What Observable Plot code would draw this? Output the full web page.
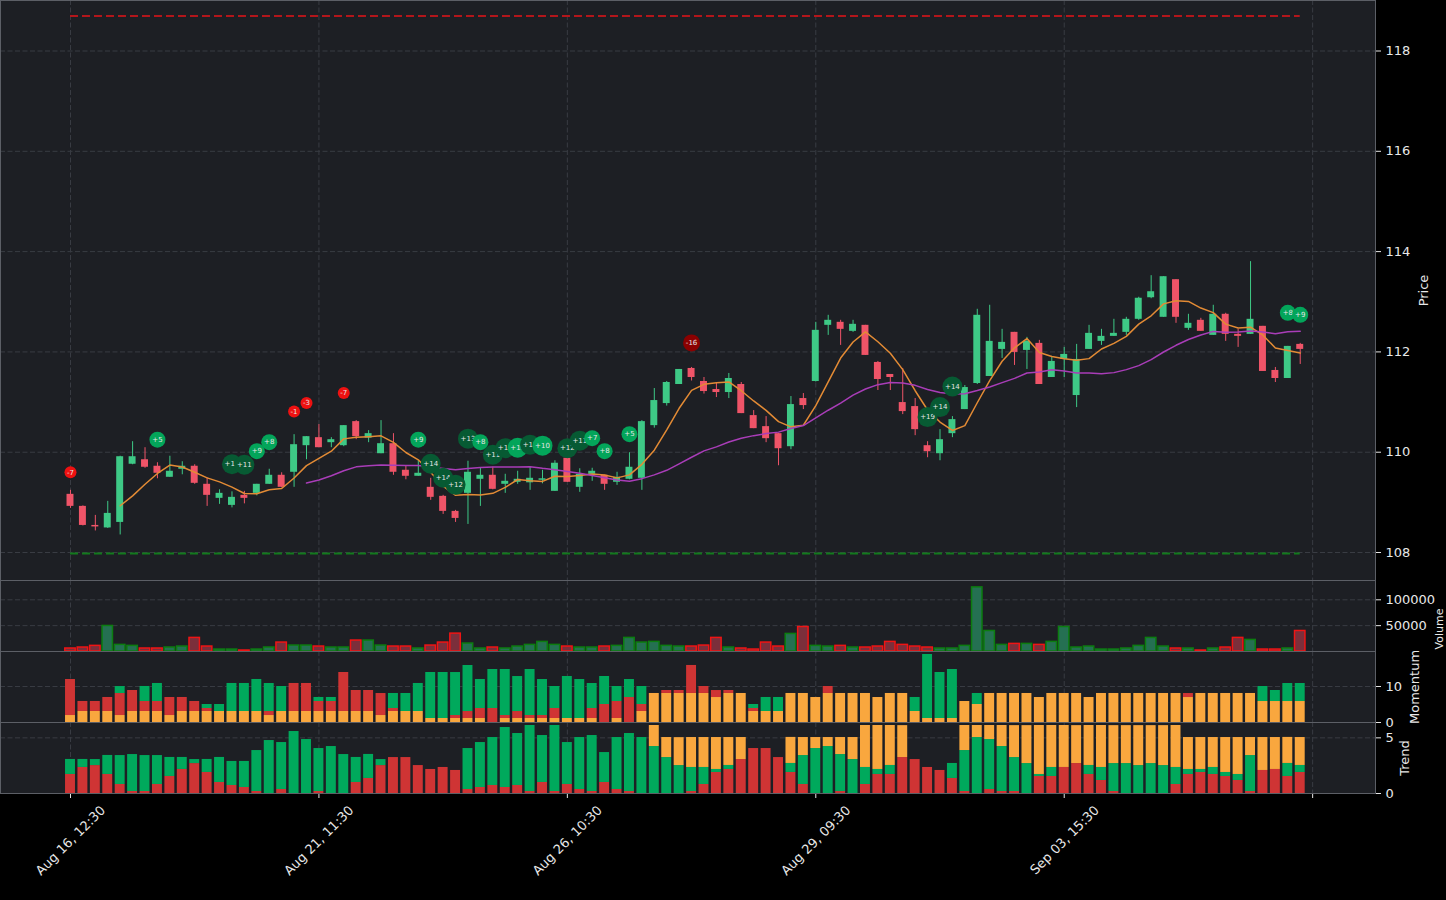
<!DOCTYPE html>
<html><head><meta charset="utf-8">
<script src="https://cdn.jsdelivr.net/npm/d3@7"></script>
<script src="https://cdn.jsdelivr.net/npm/@observablehq/plot@0.6"></script>
<style>
html,body{margin:0;padding:0;background:#000;}
#chart{position:relative;width:1446px;height:900px;background:#000;overflow:hidden;}
#chart svg{position:absolute;left:0;}
</style></head><body><div id="chart"></div>
<script>
// ---------- data ----------
const open = [109.16,108.92,108.54,108.49,108.60,109.76,109.85,109.72,109.50,109.66,
109.72,109.36,109.08,108.94,109.14,109.18,109.36,109.54,109.60,110.13,
110.29,110.19,110.13,110.61,110.28,109.97,110.17,109.64,109.52,109.30,
109.12,108.82,109.18,109.46,109.54,109.36,109.40,109.39,109.44,109.22,
109.88,109.30,109.56,109.54,109.40,109.46,109.48,110.53,110.97,111.35,
111.67,111.41,111.25,111.19,111.35,110.73,110.51,110.37,110.11,111.07,
111.41,112.53,112.59,112.41,112.53,111.79,111.55,110.99,110.91,110.13,
109.97,110.37,110.85,111.37,111.51,112.05,112.39,112.03,112.17,111.49,
111.85,111.13,112.05,112.21,112.31,112.39,112.65,113.08,112.69,113.44,
112.47,112.63,112.33,112.75,112.35,112.35,112.51,111.63,111.47,112.15];
const high = [109.24,108.93,108.74,109.02,109.92,110.21,110.09,109.79,109.92,109.81,
109.75,109.49,109.25,109.21,109.22,109.36,109.66,109.59,110.35,110.31,
110.55,110.29,110.53,110.63,110.43,110.63,110.37,109.72,109.83,109.48,
109.14,108.84,109.82,109.68,109.70,109.56,109.62,109.70,109.64,109.83,
110.00,109.67,109.68,109.54,109.60,109.99,110.63,111.27,111.41,111.65,
111.69,111.49,111.37,111.57,111.39,110.83,110.71,110.37,111.11,111.17,
112.59,112.73,112.63,112.63,112.53,111.81,111.55,111.67,111.07,110.21,
110.45,110.71,111.33,112.85,112.93,112.45,112.39,112.29,112.23,111.91,
112.09,112.15,112.53,112.45,112.65,112.69,113.09,113.52,113.50,113.44,
112.75,112.67,112.93,112.77,112.45,113.80,112.51,111.69,112.11,112.17];
const low = [108.88,108.53,108.43,108.48,108.35,109.75,109.68,109.47,109.50,109.55,
109.36,108.92,108.96,108.89,108.97,109.13,109.36,109.29,109.30,109.85,
110.09,110.09,110.11,110.25,110.19,109.97,109.54,109.45,109.52,109.04,
108.76,108.60,108.56,108.92,109.25,109.18,109.36,109.24,109.37,109.22,
109.40,109.20,109.42,109.24,109.34,109.45,109.24,110.48,110.92,111.35,
111.42,111.16,111.09,111.07,110.77,110.47,110.19,109.73,110.05,110.85,
111.40,112.33,112.13,112.39,111.93,111.23,111.23,110.75,110.33,109.89,
109.83,110.29,110.85,111.35,111.51,111.87,111.73,111.65,111.35,111.49,
111.49,110.89,112.05,112.13,112.31,112.33,112.63,113.06,112.69,112.57,
112.43,112.41,112.33,112.21,112.09,112.35,111.61,111.39,111.47,111.75];
const close = [108.92,108.54,108.51,108.78,109.91,109.91,109.70,109.58,109.62,109.72,
109.38,109.14,109.18,109.10,109.08,109.36,109.54,109.30,110.15,110.31,
110.09,110.25,110.53,110.31,110.37,110.17,109.60,109.52,109.58,109.10,
108.82,108.68,109.60,109.54,109.26,109.42,109.46,109.48,109.47,109.78,
109.40,109.56,109.62,109.36,109.50,109.70,110.61,111.03,111.39,111.65,
111.49,111.21,111.19,111.47,110.77,110.47,110.27,110.07,110.95,110.93,
112.43,112.63,112.45,112.55,111.93,111.45,111.49,110.81,110.45,110.01,
110.25,110.65,111.29,112.73,112.21,112.19,111.99,112.21,111.35,111.81,
111.95,111.85,112.37,112.31,112.37,112.65,113.07,113.20,113.50,112.69,
112.57,112.41,112.75,112.35,112.31,112.65,111.61,111.47,112.11,112.05];
const volume = [5800,7700,10900,49400,12800,10900,5800,5800,7700,9600,
26300,9600,3800,3800,1900,3800,7700,17300,11500,11500,
9600,7700,7700,21200,21200,11500,9600,9600,5800,11500,
17300,34600,15400,5800,7700,5800,9600,12800,18600,12800,
9600,7700,7700,9600,10900,26300,17300,18600,10900,9600,
9600,11500,26300,7700,5800,3800,17300,9600,34000,47400,
10900,9600,10900,7700,7700,9600,18600,12800,9600,7700,
5800,5800,10900,124000,39700,12800,14700,14700,12800,18600,
47400,7700,9600,3800,3800,5800,10900,26300,9600,5800,
5800,1900,5800,7700,26300,22400,3800,3800,5800,39700];
const momOrange = [1.94,3.06,3.06,3.06,1.94,3.06,3.06,3.06,1.94,3.06,
3.06,3.06,3.06,3.06,3.06,3.06,1.94,3.06,3.06,3.06,
3.06,3.06,3.06,3.06,3.06,1.94,3.06,3.06,3.06,1.11,
1.11,1.11,1.11,1.11,0,1.11,1.11,1.11,1.11,1.11,
1.11,1.11,1.11,0,1.11,0,3.06,8.06,8.06,8.06,
8.06,8.06,6.94,8.06,8.06,3.06,3.06,3.06,8.06,8.06,
6.94,8.06,8.06,8.06,8.06,6.94,8.06,8.06,3.06,1.11,
1.11,1.11,5.83,5.0,8.06,8.06,8.06,8.06,6.94,8.06,
8.06,8.06,6.94,8.06,8.06,8.06,8.06,8.06,8.06,8.06,
6.94,8.06,8.06,8.06,8.06,8.06,5.83,5.83,5.83,5.83];
const momRed = [10.0,2.78,2.78,3.89,6.11,5.83,2.78,2.78,5.0,3.89,
2.78,0.83,0,0,0,0,1.11,0,7.78,7.78,
2.78,2.78,10.83,5.83,5.83,6.11,0.83,0,0,0,
0,0.83,1.94,2.78,3.89,0.83,1.94,0.83,0.83,2.78,
0,0,2.78,5.0,4.72,6.94,1.94,0,0.83,0.83,
7.78,1.94,1.94,0.83,0,0.83,0,0,0,0,
0,1.94,0,0,0,0,0,0,0,0,
0,0,0,0,0,0,0,0,0,0,
0,0,0,0,0,0,0,0,0,0,
1.11,0,0,0,0,0,0,0,0,0];
const momGreen = [0,0,0,0,1.94,0,4.17,5.0,0,0,
0,1.11,1.94,7.78,7.78,8.89,7.78,6.94,0,0,
1.11,1.11,0,0,0,0,4.17,5.0,7.78,12.78,
12.78,11.94,12.78,8.06,10.83,12.78,9.72,12.78,10.0,6.11,
11.67,10.83,6.94,7.78,4.17,5.0,5.0,0,0,0,
0,0,0,0,0,1.11,3.89,3.89,0,0,
0,0,0,0,0,0,0,0,3.89,17.78,
12.78,13.61,0,3.06,0,0,0,0,0,0,
0,0,0,0,0,0,0,0,0,0,
0,0,0,0,0,0,4.17,3.06,5.0,5.0];
const trendRed = [1.71,2.34,2.51,1.71,0.81,0.18,0.18,0.81,1.53,2.16,
2.69,1.89,0.99,0.72,0.54,0.18,0,0.36,0,0,
0.18,0,0,0.99,1.35,2.51,3.23,3.23,2.51,2.16,
2.34,2.07,0.36,0.54,0.72,0.54,0.72,0.18,0.99,0.18,
0.81,0.36,0.18,0.99,0.36,0.18,0,0,0,0,
0.18,0.81,1.89,2.16,3.05,4.04,4.04,3.23,1.89,0.81,
0,0,0.18,0,0.81,1.71,1.71,3.23,3.05,2.34,
2.07,1.35,0.18,0,0.36,0.18,0.18,0,1.53,1.53,
2.34,2.69,1.71,1.17,0.18,0,0,0,0,0.81,
1.71,1.89,1.71,1.53,1.17,0.18,2.07,2.16,1.53,1.89];
const trendGreen = [1.35,0.72,0.54,1.71,2.60,3.32,3.23,2.60,1.71,1.08,
0.36,1.17,2.25,2.16,2.34,3.68,4.76,4.22,5.57,4.85,
3.86,4.22,3.50,2.25,2.16,0.54,0,0,0,0,
0,0,3.68,4.04,4.31,5.39,4.67,5.93,4.22,5.93,
3.77,4.67,5.03,2.69,4.67,5.21,5.03,4.22,3.23,2.51,
2.16,1.53,0.27,0.36,0,0,0,0,0.81,2.60,
4.04,4.22,3.32,3.05,1.53,0.45,0.81,0,0,0,
0,1.35,3.68,5.03,4.49,4.04,3.05,2.69,0.18,0.81,
0,0,0.81,1.17,2.51,2.69,2.51,2.69,2.51,1.53,
0.45,0.27,0.63,0.36,0.54,3.23,0,0,1.17,0.63];
const trendOrange = [0,0,0,0,0,0,0,0,0,0,
0,0,0,0,0,0,0,0,0,0,
0,0,0,0,0,0,0,0,0,0,
0,0,0,0,0,0,0,0,0,0,
0,0,0,0,0,0,0,1.89,1.80,2.51,
2.69,2.69,2.87,2.51,1.98,0,0,0,2.34,1.62,
0.99,0.81,1.53,1.98,3.77,3.95,3.59,2.87,0,0,
0,0,2.25,1.08,1.26,1.89,2.87,3.41,4.40,3.77,
3.77,3.41,3.59,3.77,3.41,3.41,3.59,3.41,3.59,3.77,
2.87,2.87,2.69,3.14,3.32,1.62,2.96,2.87,2.34,2.51];
const sigIndex = [0,7,13,14,15,16,18,19,22,28,29,30,31,32,33,34,35,36,37,38,40,41,42,43,45,50,69,70,71,98,99];
const sigValue = [-7,5,12,11,9,8,-1,-3,-7,9,14,14,12,13,8,11,12,10,12,10,12,11,7,8,5,-16,19,14,14,8,9];
const sigPrice = [109.60,110.25,109.76,109.75,110.02,110.20,110.81,110.98,111.18,110.25,109.77,109.49,109.35,110.27,110.20,109.95,110.08,110.09,110.15,110.13,110.08,110.23,110.28,110.02,110.36,112.18,110.70,110.90,111.31,112.78,112.74];
const resistance = 118.70;
const support = 107.98;
const tickIndex = [0,20,40,60,80,100];
const tickLabels = ["Aug 16, 12:30","Aug 21, 11:30","Aug 26, 10:30","Aug 29, 09:30","Sep 03, 15:30",""];
const priceTicks = [108,110,112,114,116,118];
const volumeTicks = [50000,100000];
const momentumTicks = [0,10];
const trendTicks = [0,5];

// ---------- styling ----------
const W = 1446, MR = 71;
const xDomain = [-5.635, 105.06];
const BG = "#1d1f24", GRID = "#393c43", SPINE = "#5c5f66", TXT = "#e8e8e8";
const UP = "#3ec986", DOWN = "#ef5468";
const C_RED = "#cf3434", C_GREEN = "#00a95c", C_ORANGE = "#f9a73e";
const style = {background: "transparent", color: TXT, fontFamily: "'DejaVu Sans', sans-serif", fontSize: "13px", overflow: "visible"};
const dash = "5,2.5";

const candles = open.map((o, i) => ({i, open: o, high: high[i], low: low[i], close: close[i], up: close[i] >= o, volume: volume[i]}));
const sigRows = sigIndex.map((i, k) => ({i, v: sigValue[k], y: sigPrice[k], label: (sigValue[k] > 0 ? "+" : "") + sigValue[k]}));
const sigFill = v => v > 10 ? "#075a33" : v > 0 ? "#03a55a" : v <= -10 ? "#8b0000" : "#ee1111";
const sigR = v => v >= 10 ? 10 : v > 0 ? 8 : v <= -10 ? 8.5 : 6;

function stack(parts) {
  const rows = [];
  open.forEach((_, i) => {
    let base = 0;
    for (const [arr, color] of parts) {
      const h = arr[i];
      if (h > 0) { rows.push({i, y1: base, y2: base + h, color}); base += h; }
    }
  });
  return rows;
}
const momRows = stack([[momOrange, C_ORANGE], [momRed, C_RED], [momGreen, C_GREEN]]);
const trendRows = stack([[trendRed, C_RED], [trendGreen, C_GREEN], [trendOrange, C_ORANGE]]);

function axisLabel(text, dx, extra) {
  return Plot.text([text], Object.assign({text: d => d, frameAnchor: "right", dx, rotate: -90, textAnchor: "middle", lineAnchor: "middle", fill: TXT, fontSize: 13}, extra || {}));
}
function rightAxis(ticks, fmt) {
  return Plot.axisY(ticks, {anchor: "right", tickSize: 5, tickPadding: 5, label: null, tickFormat: fmt || (d => String(d))});
}
function place(svg, top) { svg.style.top = top + "px"; document.getElementById("chart").appendChild(svg); }

// ---------- price panel ----------
place(Plot.plot({
  width: W, height: 580, marginLeft: 0, marginRight: MR, marginTop: 0, marginBottom: 0,
  style,
  x: {domain: xDomain, axis: null},
  y: {domain: [107.442, 119.007], axis: null},
  marks: [
    Plot.frame({fill: BG, stroke: null}),
    Plot.ruleY(priceTicks, {stroke: GRID, strokeDasharray: dash}),
    Plot.ruleX(tickIndex, {stroke: GRID, strokeDasharray: dash}),
    Plot.ruleY([resistance], {y: d => d, x1: 0, x2: 99, stroke: "#b3161b", strokeWidth: 2, strokeDasharray: "8,4"}),
    Plot.ruleY([support], {y: d => d, x1: 0, x2: 99, stroke: "#127a1c", strokeWidth: 2, strokeDasharray: "8,4"}),
    Plot.ruleX(candles, {x: "i", y1: "low", y2: "high", stroke: d => d.up ? UP : DOWN, strokeWidth: 1}),
    Plot.rect(candles, {x1: d => d.i - 0.28, x2: d => d.i + 0.28, y1: "open", y2: "close", fill: d => d.up ? UP : DOWN}),
    Plot.lineY(candles, Plot.windowY({k: 5, anchor: "end", strict: true}, {x: "i", y: "close", stroke: "#e38b35", strokeWidth: 1.5})),
    Plot.lineY(candles, Plot.windowY({k: 20, anchor: "end", strict: true}, {x: "i", y: "close", stroke: "#a93db8", strokeWidth: 1.5})),
    ...sigRows.flatMap(d => [
      Plot.dot([d], {x: "i", y: "y", r: sigR(d.v), fill: sigFill(d.v)}),
      Plot.text([d], {x: "i", y: "y", text: "label", fill: "#e6e6e6", fontSize: 7})
    ]),
    rightAxis(priceTicks),
    axisLabel("Price", 48.5),
    Plot.frame({stroke: SPINE})
  ]
}), 0);

// ---------- volume panel ----------
place(Plot.plot({
  width: W, height: 71, marginLeft: 0, marginRight: MR, marginTop: 0, marginBottom: 0,
  style,
  x: {domain: xDomain, axis: null},
  y: {domain: [0, 137330], axis: null},
  marks: [
    Plot.frame({fill: BG, stroke: null}),
    Plot.ruleY(volumeTicks, {stroke: GRID, strokeDasharray: dash}),
    Plot.ruleX(tickIndex, {stroke: GRID, strokeDasharray: dash}),
    Plot.rect(candles, {x1: d => d.i - 0.42, x2: d => d.i + 0.42, y1: 0, y2: "volume",
      fill: d => d.up ? "#257052" : "#7b2f3b", stroke: d => d.up ? "#0c7d10" : "#f01414", strokeWidth: 1.5}),
    rightAxis(volumeTicks),
    axisLabel("Volume", 63.5, {fontSize: 11, dy: 13}),
    Plot.frame({stroke: SPINE})
  ]
}), 580);

// ---------- momentum panel ----------
place(Plot.plot({
  width: W, height: 71, marginLeft: 0, marginRight: MR, marginTop: 0, marginBottom: 0,
  style,
  x: {domain: xDomain, axis: null},
  y: {domain: [0, 19.72], axis: null},
  color: {type: "identity"},
  marks: [
    Plot.frame({fill: BG, stroke: null}),
    Plot.ruleY([10], {stroke: GRID, strokeDasharray: dash}),
    Plot.ruleX(tickIndex, {stroke: GRID, strokeDasharray: dash}),
    Plot.rect(momRows, {x1: d => d.i - 0.4, x2: d => d.i + 0.4, y1: "y1", y2: "y2", fill: "color"}),
    rightAxis(momentumTicks),
    axisLabel("Momentum", 39.5),
    Plot.frame({stroke: SPINE})
  ]
}), 651);

// ---------- trend panel + x axis ----------
place(Plot.plot({
  width: W, height: 178, marginLeft: 0, marginRight: MR, marginTop: 0, marginBottom: 107,
  style,
  x: {domain: xDomain, axis: null},
  y: {domain: [0, 6.38], axis: null},
  color: {type: "identity"},
  marks: [
    Plot.frame({fill: BG, stroke: null}),
    Plot.ruleY([5], {stroke: GRID, strokeDasharray: dash}),
    Plot.ruleX(tickIndex, {stroke: GRID, strokeDasharray: dash}),
    Plot.rect(trendRows, {x1: d => d.i - 0.4, x2: d => d.i + 0.4, y1: "y1", y2: "y2", fill: "color"}),
    rightAxis(trendTicks),
    axisLabel("Trend", 29.5),
    Plot.axisX(tickIndex, {anchor: "bottom", tickSize: 5, tickFormat: () => "", label: null}),
    Plot.text(tickIndex.map((t, k) => ({t, label: tickLabels[k]})), {x: "t", text: "label", frameAnchor: "bottom",
      rotate: -45, textAnchor: "end", lineAnchor: "top", dx: 29, dy: 11, fill: TXT, fontSize: 13}),
    Plot.frame({stroke: SPINE})
  ]
}), 722);
</script>
</body></html>
